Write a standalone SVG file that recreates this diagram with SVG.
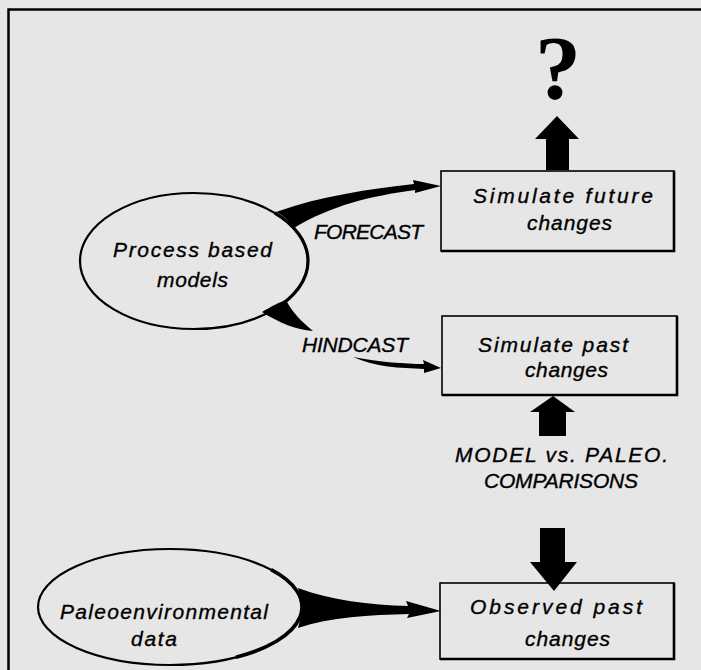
<svg xmlns="http://www.w3.org/2000/svg" width="701" height="670" viewBox="0 0 701 670">
<style>
.t{font-family:"Liberation Sans",Arial,sans-serif;font-style:italic;font-size:21px;fill:#000;stroke:#000;stroke-width:0.35}
.box{fill:none;stroke:#000;stroke-width:1.6}
.sh{fill:none;stroke:#000;stroke-width:2.6}
.ell{fill:none;stroke:#000;stroke-width:2.2}
.ar{fill:#000;stroke:none}
</style>
<rect width="701" height="670" fill="#e6e6e6"/>
<path d="M8.5 670 V9.5 H701" fill="none" stroke="#000" stroke-width="2.5"/>
<g id="question">
<text x="558" y="99" text-anchor="middle" font-family="Liberation Serif,serif" font-weight="bold" font-size="92">?</text>
</g>
<g id="process-models">
<ellipse class="ell" cx="194" cy="261" rx="114" ry="68"/>
<path d="M274.6 212.9 A114 68 0 0 1 274.6 309.1" fill="none" stroke="#000" stroke-width="3.2"/>
<text class="t" x="113" y="257" textLength="159" lengthAdjust="spacing">Process based</text>
<text class="t" x="157" y="287" textLength="71" lengthAdjust="spacing">models</text>
</g>
<g id="paleo-data">
<ellipse class="ell" cx="170" cy="607" rx="132" ry="58"/>
<path d="M271.1 569.7 A132 58 0 0 1 236 657.2" fill="none" stroke="#000" stroke-width="3.6"/>
<text class="t" x="60" y="619" textLength="208" lengthAdjust="spacing">Paleoenvironmental</text>
<text class="t" x="131" y="646" textLength="46" lengthAdjust="spacing">data</text>
</g>
<g id="future">
<rect class="box" x="441" y="171" width="233" height="80"/>
<path class="sh" d="M441 251 H674 V171"/>
<text class="t" x="473" y="203" textLength="180" lengthAdjust="spacing">Simulate future</text>
<text class="t" x="527" y="230" textLength="85" lengthAdjust="spacing">changes</text>
</g>
<g id="past-sim">
<rect class="box" x="442" y="316" width="235" height="79"/>
<path class="sh" d="M442 395 H677 V316"/>
<text class="t" x="478" y="352" textLength="150" lengthAdjust="spacing">Simulate past</text>
<text class="t" x="525" y="377" textLength="83" lengthAdjust="spacing">changes</text>
</g>
<g id="observed">
<rect class="box" x="440" y="583" width="234" height="76"/>
<path class="sh" d="M440 659 H674 V583"/>
<text class="t" x="470" y="614" textLength="172" lengthAdjust="spacing">Observed past</text>
<text class="t" x="525" y="646" textLength="85" lengthAdjust="spacing">changes</text>
</g>
<g id="labels">
<text class="t" x="314" y="239" textLength="109" lengthAdjust="spacing">FORECAST</text>
<text class="t" x="302" y="352" textLength="106" lengthAdjust="spacing">HINDCAST</text>
<text class="t" x="455" y="462" textLength="213" lengthAdjust="spacing">MODEL vs. PALEO.</text>
<text class="t" x="484" y="488" textLength="154" lengthAdjust="spacing">COMPARISONS</text>
</g>
<g id="connectors">
<path class="ar" d="M557 116 L579 139 L569 139 L569 170 L546 170 L546 139 L535 139 Z"/>
<path class="ar" d="M553 396 L575 412 L566 412 L566 436 L539 436 L539 412 L530 412 Z"/>
<path class="ar" d="M554 591 L577 562 L565 562 L565 528 L540 528 L540 562 L530 562 Z"/>
<path class="ar" d="M276 212 C320 196 370 189 414 184 L413 180 L441 186 L415 193 L415 190 C370 196 330 206 294 228 C290 222 284 216 276 212 Z"/>
<path class="ar" d="M262 312 C272 306 280 302 286 300 C292 312 302 322 313 331 C296 330 278 322 262 312 Z"/>
<path class="ar" d="M353 357 C380 362 405 364 424 364 L423 360 L441 368 L424 373 L424 369 C400 368 375 367 353 357 Z"/>
<path class="ar" d="M298 588 C330 600 370 605 408 606 L406 601 L441 611 L407 618 L409 614 C370 615 330 617 298 628 C302 615 302 600 298 588 Z"/>
</g>
</svg>
